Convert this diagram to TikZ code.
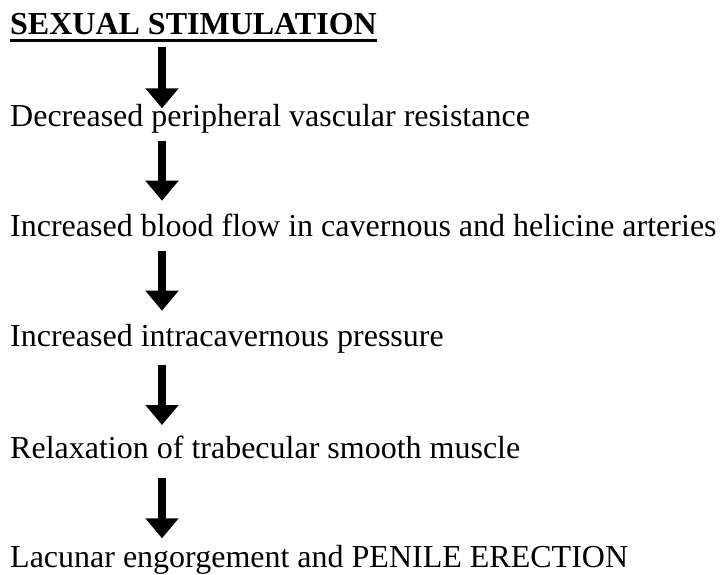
\documentclass[tikz,border=0pt]{standalone}
\usepackage{fontspec}
\setmainfont{Liberation Serif}
\usetikzlibrary{arrows.meta}
\tikzset{
  txt/.style={anchor=base west, inner sep=0pt, font=\fontsize{32}{38}\selectfont},
  ttl/.style={txt, font=\fontsize{32}{38}\selectfont\bfseries},
  flowarrow/.style={line width=7.3pt, -{Triangle[width=32pt,length=20pt]}},
  uline/.style={line width=3pt}
}
\begin{document}
\begin{tikzpicture}[x=1pt,y=1pt]
\useasboundingbox (0,0) rectangle (720,-574);
\coordinate (ax) at (162,0);
\node[ttl] (t0) at (10,-34) {SEXUAL STIMULATION};
\node[txt] (t1) at (10,-126.7) {Decreased peripheral vascular resistance};
\node[txt] (t2) at (10,-236.7) {Increased blood flow in cavernous and helicine arteries};
\node[txt] (t3) at (10,-346.7) {Increased intracavernous pressure};
\node[txt] (t4) at (10,-458.3) {Relaxation of trabecular smooth muscle};
\node[txt] (t5) at (10,-567.6) {Lacunar engorgement and PENILE ERECTION};
\draw[uline] ([yshift=-6.3pt]t0.base west) -- ([yshift=-6.3pt]t0.base east);
\draw[flowarrow] ([yshift=-13pt]t0.base -| ax) -- ([yshift=18.4pt]t1.base -| ax);
\draw[flowarrow] ([yshift=-14pt]t1.base -| ax) -- ([yshift=36pt]t2.base -| ax);
\draw[flowarrow] ([yshift=-14pt]t2.base -| ax) -- ([yshift=36pt]t3.base -| ax);
\draw[flowarrow] ([yshift=-18.3pt]t3.base -| ax) -- ([yshift=33.3pt]t4.base -| ax);
\draw[flowarrow] ([yshift=-20pt]t4.base -| ax) -- ([yshift=29.3pt]t5.base -| ax);
\end{tikzpicture}
\end{document}
